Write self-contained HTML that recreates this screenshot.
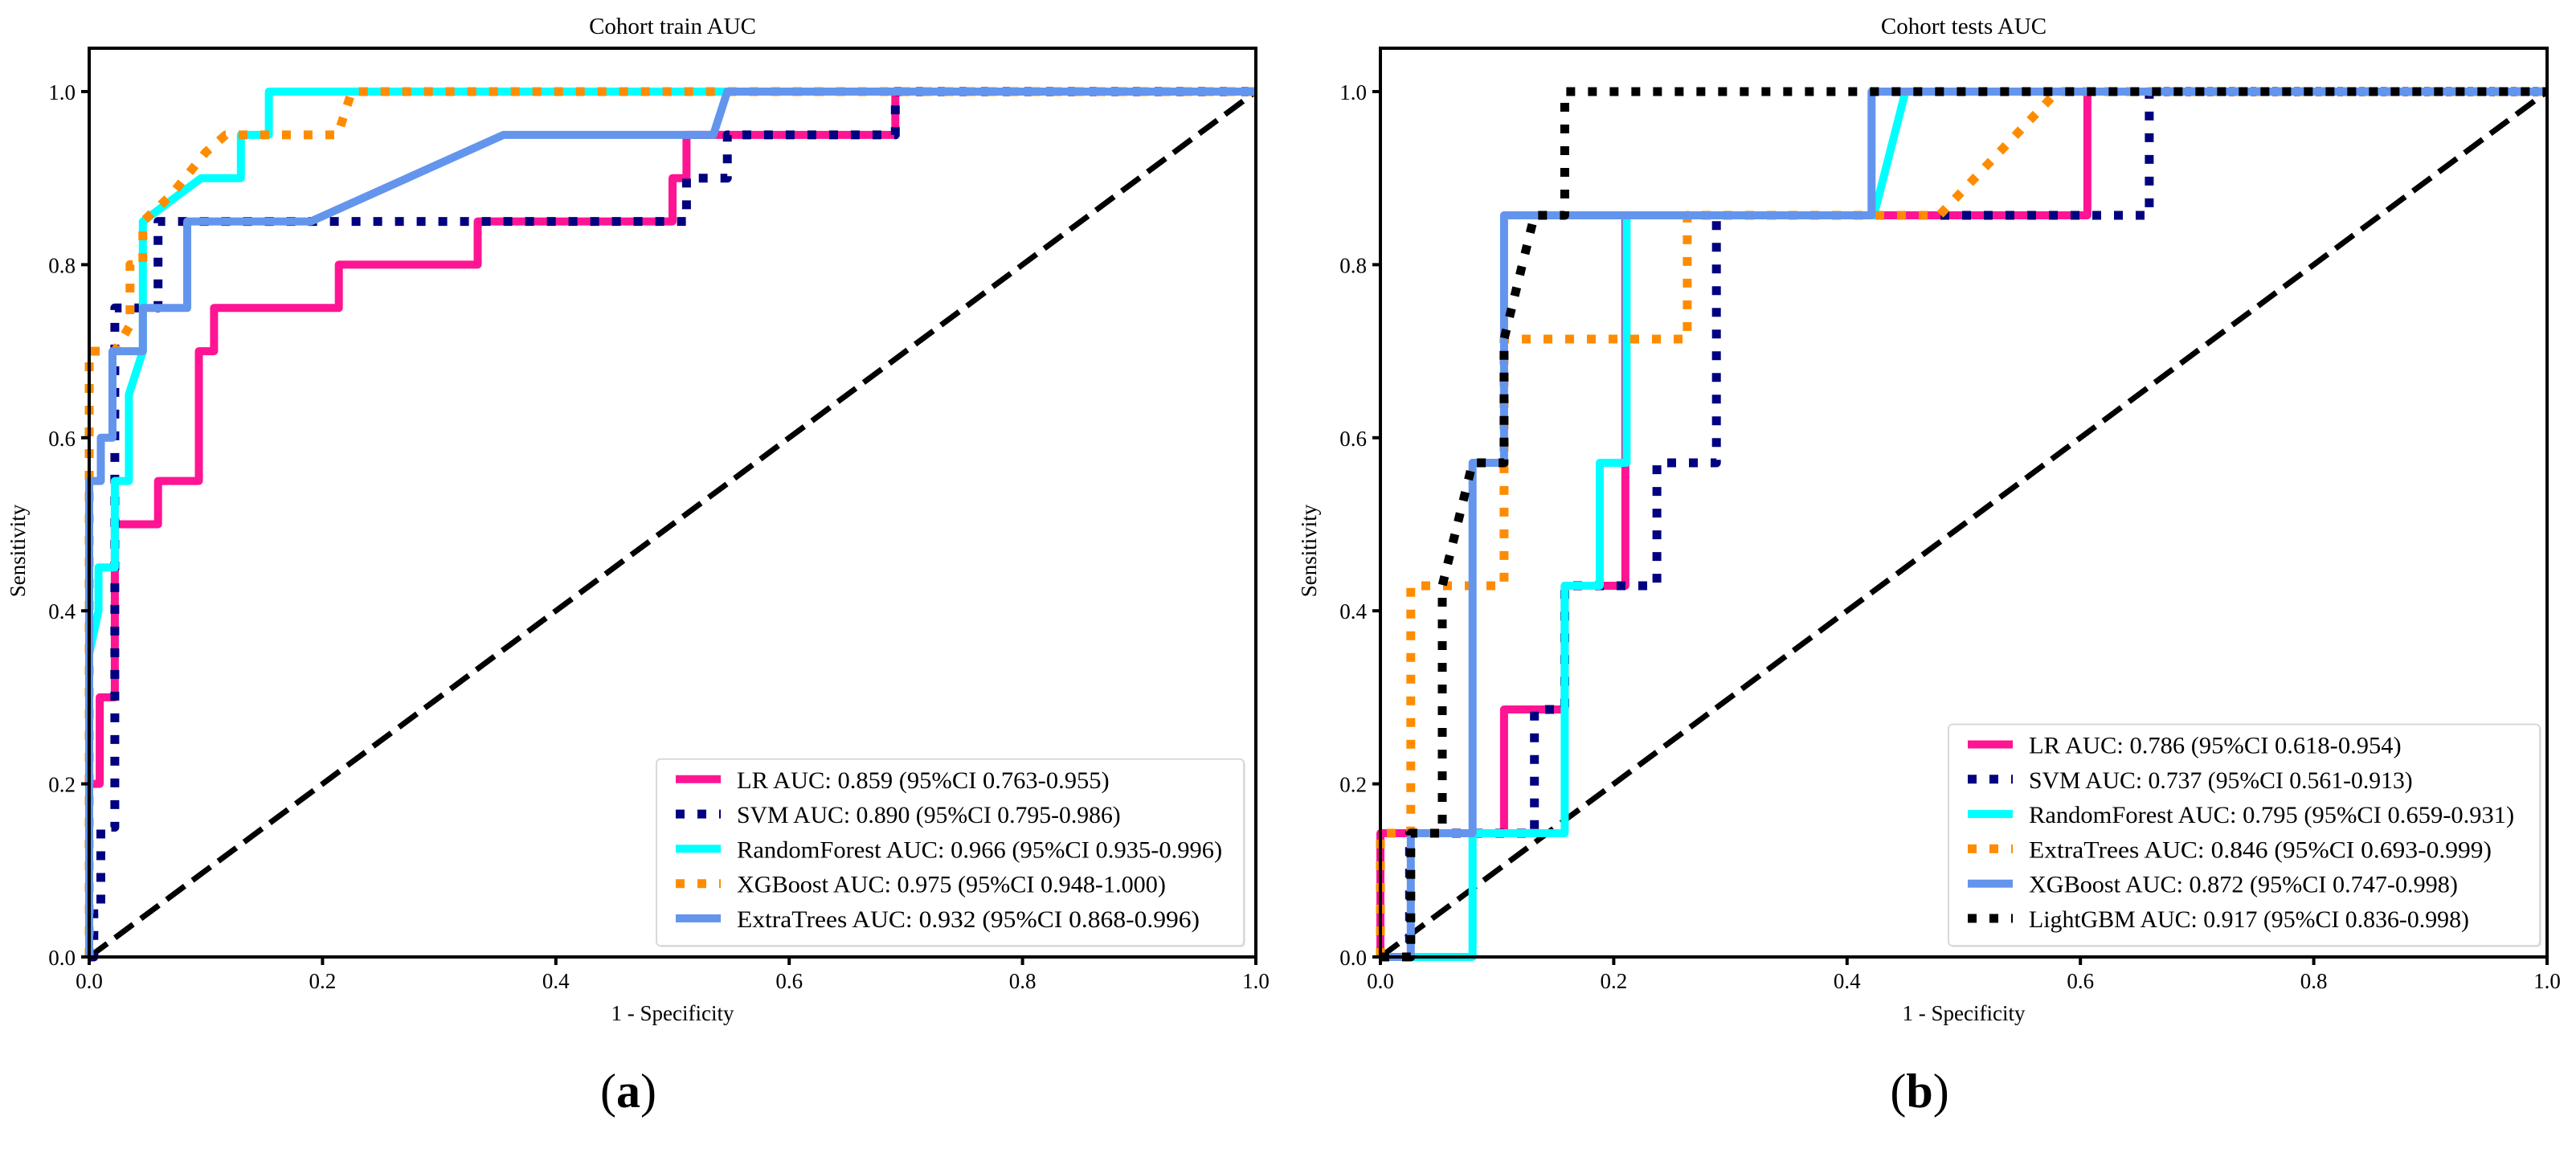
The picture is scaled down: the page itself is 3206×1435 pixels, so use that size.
<!DOCTYPE html>
<html><head><meta charset="utf-8">
<style>
html,body{margin:0;padding:0;background:#fff;}
svg{display:block;font-family:"Liberation Serif","DejaVu Serif",serif;}
</style></head>
<body>
<svg id="fig" width="3206" height="1435" viewBox="0 0 3206 1435" xmlns="http://www.w3.org/2000/svg"></svg>
<script>
// ---- data: panel (a) train ----
const trainNames = ["LR","SVM","RandomForest","XGBoost","ExtraTrees"];
const trainLabels = [
 "LR AUC: 0.859 (95%CI 0.763-0.955)",
 "SVM AUC: 0.890 (95%CI 0.795-0.986)",
 "RandomForest AUC: 0.966 (95%CI 0.935-0.996)",
 "XGBoost AUC: 0.975 (95%CI 0.948-1.000)",
 "ExtraTrees AUC: 0.932 (95%CI 0.868-0.996)"];
const trainLR_fpr = [0,0,0.009,0.009,0.022,0.022,0.059,0.059,0.094,0.094,0.107,0.107,0.214,0.214,0.333,0.333,0.50,0.50,0.512,0.512,0.691,0.691,1];
const trainLR_tpr = [0,0.2,0.2,0.3,0.3,0.5,0.5,0.55,0.55,0.7,0.7,0.75,0.75,0.8,0.8,0.85,0.85,0.9,0.9,0.95,0.95,1,1];
const trainSVM_fpr = [0,0.004,0.004,0.01,0.01,0.022,0.022,0.059,0.059,0.512,0.512,0.547,0.547,0.691,0.691,1];
const trainSVM_tpr = [0,0,0.05,0.05,0.15,0.15,0.75,0.75,0.85,0.85,0.9,0.9,0.95,0.95,1,1];
const trainRF_fpr = [0,0,0.008,0.008,0.022,0.022,0.034,0.034,0.046,0.046,0.096,0.13,0.13,0.154,0.154,1];
const trainRF_tpr = [0,0.35,0.4,0.45,0.45,0.55,0.55,0.65,0.7,0.85,0.9,0.9,0.95,0.95,1,1];
const trainXGB_fpr = [0,0,0,0.022,0.035,0.035,0.046,0.046,0.07,0.1,0.117,0.213,0.225,1];
const trainXGB_tpr = [0,0.56,0.7,0.7,0.73,0.8,0.8,0.85,0.88,0.93,0.95,0.95,1,1];
const trainET_fpr = [0,0,0.01,0.01,0.02,0.02,0.046,0.046,0.084,0.084,0.19,0.355,0.535,0.547,1];
const trainET_tpr = [0,0.55,0.55,0.6,0.6,0.7,0.7,0.75,0.75,0.85,0.85,0.95,0.95,1,1];
// ---- data: panel (b) tests ----
const testNames = ["LR","SVM","RandomForest","ExtraTrees","XGBoost","LightGBM"];
const testLabels = [
 "LR AUC: 0.786 (95%CI 0.618-0.954)",
 "SVM AUC: 0.737 (95%CI 0.561-0.913)",
 "RandomForest AUC: 0.795 (95%CI 0.659-0.931)",
 "ExtraTrees AUC: 0.846 (95%CI 0.693-0.999)",
 "XGBoost AUC: 0.872 (95%CI 0.747-0.998)",
 "LightGBM AUC: 0.917 (95%CI 0.836-0.998)"];
const testLR_fpr = [0,0,0.106,0.106,0.158,0.158,0.21,0.21,0.606,0.606,1];
const testLR_tpr = [0,0.143,0.143,0.286,0.286,0.429,0.429,0.857,0.857,1,1];
const testSVM_fpr = [0,0.025,0.025,0.132,0.132,0.158,0.158,0.237,0.237,0.288,0.288,0.659,0.659,1];
const testSVM_tpr = [0,0,0.143,0.143,0.286,0.286,0.429,0.429,0.571,0.571,0.857,0.857,1,1];
const testRF_fpr = [0,0.079,0.079,0.158,0.158,0.188,0.188,0.211,0.211,0.423,0.45,1];
const testRF_tpr = [0,0,0.143,0.143,0.429,0.429,0.571,0.571,0.857,0.857,1,1];
const testET_fpr = [0,0,0.026,0.026,0.106,0.106,0.263,0.263,0.479,0.58,1];
const testET_tpr = [0,0.143,0.143,0.429,0.429,0.714,0.714,0.857,0.857,1,1];
const testXGB_fpr = [0,0.026,0.026,0.079,0.079,0.106,0.106,0.421,0.421,1];
const testXGB_tpr = [0,0,0.143,0.143,0.571,0.571,0.857,0.857,1,1];
const testLGB_fpr = [0,0.026,0.026,0.053,0.053,0.079,0.106,0.106,0.132,0.158,0.158,1];
const testLGB_tpr = [0,0,0.143,0.143,0.429,0.571,0.571,0.714,0.857,0.857,1,1];
const tickVals = [0,0.2,0.4,0.6,0.8,1.0];
const tickText = ["0.0","0.2","0.4","0.6","0.8","1.0"];

const NS="http://www.w3.org/2000/svg";
const svg=document.getElementById('fig');
function mk(tag,attrs,parent){const e=document.createElementNS(NS,tag);for(const k in attrs)e.setAttribute(k,attrs[k]);(parent||svg).appendChild(e);return e;}

const PINK={c:"#FF1493",w:10,d:null}, NAVY={c:"#000080",w:11,d:"11 16"}, CYAN={c:"#00FFFF",w:10,d:null},
      ORANGE={c:"#FF8C00",w:11,d:"11 16"}, BLUE={c:"#6495ED",w:10,d:null}, BLACK={c:"#000000",w:11,d:"11 16"};
const trainStyles=[PINK,NAVY,CYAN,ORANGE,BLUE];
const testStyles=[PINK,NAVY,CYAN,ORANGE,BLUE,BLACK];

function panel(x0,title,names,labels,series,stylesArr,leg,panelLetter){
 const y0=1191, W=1452, H=1077, top=60;
 const X=v=>x0+v*W, Y=v=>y0-v*H;
 const g=mk('g',{});
 
 
 const diag=mk('line',{x1:X(0),y1:Y(0),x2:X(1),y2:Y(1),stroke:"#000","stroke-width":7,"stroke-dasharray":"28 12"},g);
 
 
 series.forEach((s,i)=>{
   const st=stylesArr[i];
   const pts=s[0].map((f,j)=>X(f).toFixed(1)+","+Y(s[1][j]).toFixed(1)).join(" ");
   const a={points:pts,fill:"none",stroke:st.c,"stroke-width":st.w,"stroke-linejoin":"round"};
   if(st.d){a["stroke-dasharray"]=st.d;a["stroke-linecap"]="butt";}
   const p=mk('polyline',a,g);
   
   
 });
 const fr=mk('rect',{x:x0,y:top,width:W,height:y0-top,fill:"none",stroke:"#000","stroke-width":4},g);
 
 
 tickVals.forEach((v,i)=>{
   mk('line',{x1:X(v),y1:y0,x2:X(v),y2:y0+10,stroke:"#000","stroke-width":4},g);
   const tx=mk('text',{x:X(v),y:1230,"font-size":27,"text-anchor":"middle"},g);
   tx.textContent=tickText[i];
   
   
   mk('line',{x1:x0-10,y1:Y(v),x2:x0,y2:Y(v),stroke:"#000","stroke-width":4},g);
   const ty=mk('text',{x:x0-17,y:Y(v)+10,"font-size":27,"text-anchor":"end"},g);
   ty.textContent=tickText[i];
   
   
 });
 const t=mk('text',{x:x0+W/2,y:42,"font-size":29,"text-anchor":"middle"},g);
 t.textContent=title;
 
 
 const xl=mk('text',{x:x0+W/2,y:1270,"font-size":27,"text-anchor":"middle"},g);
 xl.textContent="1 - Specificity";
 
 
 const yl=mk('text',{x:0,y:0,"font-size":27,"text-anchor":"middle",transform:`translate(${x0-80},${(top+y0)/2+60}) rotate(-90)`},g);
 yl.textContent="Sensitivity";
 
 
 const n=names.length, rowH=43.3, lastRow=1143;
 const boxTop=lastRow-(n-1)*rowH-25;
 const lg=mk('g',{},g);
 
 
 mk('rect',{x:leg.x+2,y:boxTop+2,width:leg.w,height:1177-boxTop,rx:5,fill:"#e6e6e6"},lg);
 mk('rect',{x:leg.x,y:boxTop,width:leg.w,height:1177-boxTop,rx:5,fill:"#fff",stroke:"#d9d9d9","stroke-width":2},lg);
 names.forEach((nm,i)=>{
   const yy=lastRow-(n-1-i)*rowH;
   const st=stylesArr[i];
   const a={x1:leg.x+24,y1:yy,x2:leg.x+80,y2:yy,stroke:st.c,"stroke-width":st.w};
   if(st.d)a["stroke-dasharray"]=st.d;
   const hl=mk('line',a,lg);
   
   
   const tx=mk('text',{x:leg.x+100,y:yy+11,"font-size":30,textLength:labels[i].length*14.05,lengthAdjust:"spacingAndGlyphs"},lg);
   tx.textContent=labels[i];
   
   
 });
 const pl=mk('text',{x:x0+W/2-55,y:1378,"font-size":60,"text-anchor":"middle"},g);
 pl.innerHTML='(<tspan font-weight="bold">'+panelLetter+'</tspan>)';
 
 
}

panel(111,"Cohort train AUC",trainNames,trainLabels,
 [[trainLR_fpr,trainLR_tpr],[trainSVM_fpr,trainSVM_tpr],[trainRF_fpr,trainRF_tpr],[trainXGB_fpr,trainXGB_tpr],[trainET_fpr,trainET_tpr]],
 trainStyles,{x:817,w:731},"a");
panel(1718,"Cohort tests AUC",testNames,testLabels,
 [[testLR_fpr,testLR_tpr],[testSVM_fpr,testSVM_tpr],[testRF_fpr,testRF_tpr],[testET_fpr,testET_tpr],[testXGB_fpr,testXGB_tpr],[testLGB_fpr,testLGB_tpr]],
 testStyles,{x:2425,w:736},"b");
</script>
</body></html>
